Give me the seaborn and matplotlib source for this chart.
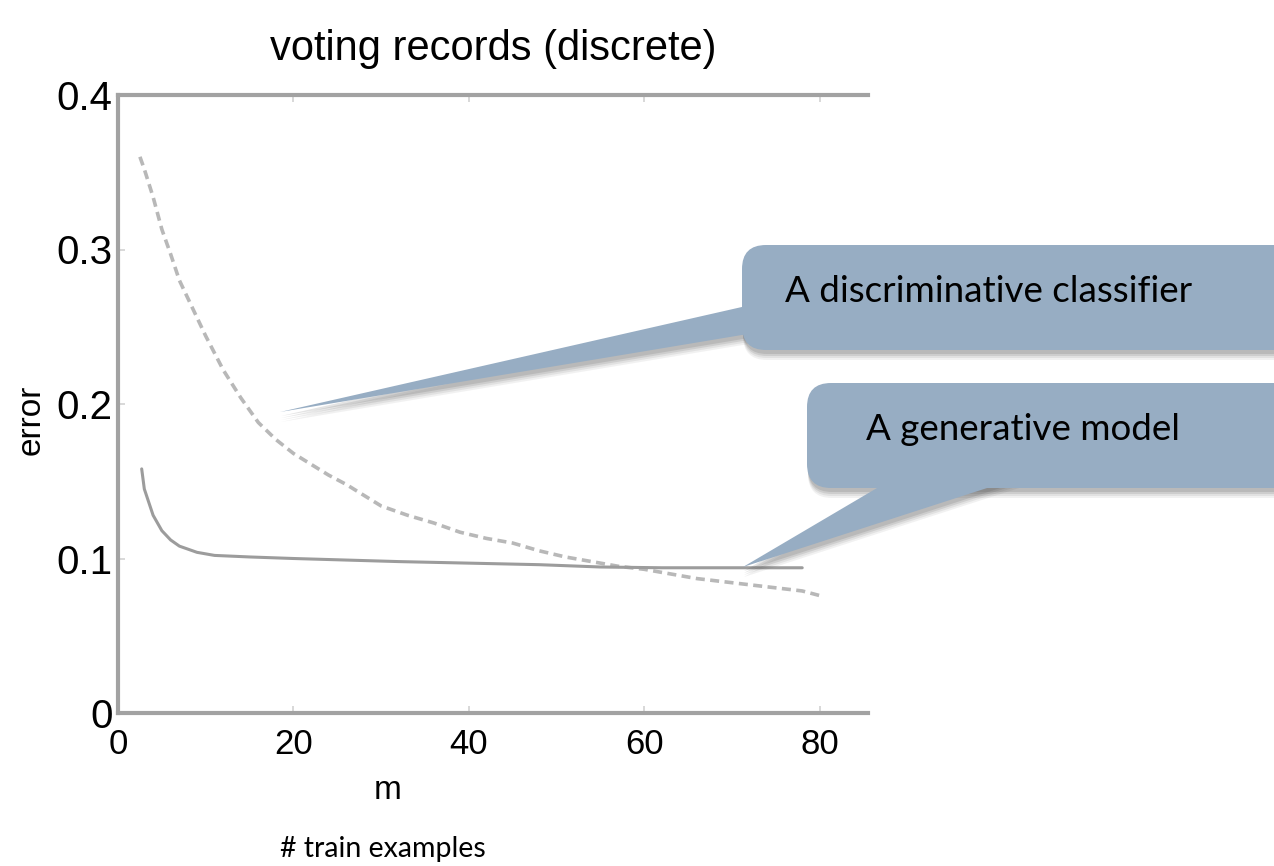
import numpy as np
import pandas as pd
import matplotlib
matplotlib.use("Agg")
import matplotlib.pyplot as plt
import seaborn as sns
from matplotlib.patches import FancyBboxPatch, Polygon

# curve readings (m = # training examples, error)
m_disc = [2.5, 3, 4, 5, 6, 7, 8, 9, 10, 11, 12, 14, 16, 18, 20, 22, 24, 26, 28, 30,
          33, 36, 39, 42, 45, 48, 51, 54, 57, 60, 63, 66, 69, 72, 75, 78, 80]
err_disc = [0.360, 0.352, 0.334, 0.313, 0.297, 0.280, 0.268, 0.256, 0.244, 0.233, 0.222,
            0.204, 0.188, 0.177, 0.168, 0.161, 0.154, 0.148, 0.141, 0.134,
            0.128, 0.123, 0.117, 0.113, 0.110, 0.105, 0.101, 0.098, 0.095, 0.093,
            0.090, 0.087, 0.085, 0.083, 0.081, 0.079, 0.076]

m_gen = [2.7, 3, 4, 5, 6, 7, 8, 9, 11, 15, 20, 26, 32, 40, 48, 55, 62, 70, 78]
err_gen = [0.158, 0.145, 0.128, 0.118, 0.112, 0.108, 0.106, 0.104, 0.102, 0.101, 0.100,
           0.099, 0.098, 0.097, 0.096, 0.0945, 0.094, 0.094, 0.094]

x_ticks = [0, 20, 40, 60, 80]
y_ticks = [0, 0.1, 0.2, 0.3, 0.4]
y_tick_labels = ["0", "0.1", "0.2", "0.3", "0.4"]

title = "voting records (discrete)"
callout_disc = "A discriminative classifier"
callout_gen = "A generative model"
caption = "# train examples"

sns.set_theme(style="white")
plt.rcParams["font.family"] = ["Liberation Sans", "DejaVu Sans"]
plt.rcParams["text.color"] = "black"
plt.rcParams["axes.labelcolor"] = "black"
plt.rcParams["xtick.labelcolor"] = "black"
plt.rcParams["ytick.labelcolor"] = "black"

df_disc = pd.DataFrame({"m": m_disc, "error": err_disc})
df_gen = pd.DataFrame({"m": m_gen, "error": err_gen})

fig = plt.figure(figsize=(12.74, 8.66), dpi=100)
ax = fig.add_axes([118 / 1274, 1 - 713 / 866, 750 / 1274, 618 / 866])

sns.lineplot(data=df_disc, x="m", y="error", ax=ax, color="#b8b8b8",
             linewidth=2.6, linestyle=(0, (2.5, 1.5)))
sns.lineplot(data=df_gen, x="m", y="error", ax=ax, color="#9c9c9c", linewidth=2.2)

ax.set_xlim(0, 85.5)
ax.set_ylim(0, 0.4)
ax.set_xticks(x_ticks)
ax.set_yticks(y_ticks)
ax.set_yticklabels(y_tick_labels)
ax.tick_params(axis="y", labelsize=29, pad=4, direction="in", length=5, color="#d4d4d4",
               left=True)
ax.tick_params(axis="x", labelsize=25, pad=11, direction="in", length=5, color="#d4d4d4",
               top=True, bottom=True)
for side in ["left", "bottom", "top"]:
    ax.spines[side].set_color("#a2a2a2")
    ax.spines[side].set_linewidth(3)
ax.spines["right"].set_visible(False)

ax.set_title(title, fontsize=30, pad=25, color="black")
ax.set_xlabel("m", fontsize=24, labelpad=0)
ax.xaxis.set_label_coords(0.36, -0.1)
ax.set_ylabel("error", fontsize=24)
ax.yaxis.set_label_coords(-0.095, 0.474)

# callout overlay in pixel coordinates
ov = fig.add_axes([0, 0, 1, 1], zorder=10)
ov.set_xlim(0, 1274)
ov.set_ylim(866, 0)
ov.axis("off")

box_color = "#97adc3"
shapes = [
    ("poly", [(280, 412), (770, 300.6), (770, 330.3)]),
    ("box", (742, 245, 560, 105)),
    ("poly", [(743, 567), (894, 478), (1018, 478)]),
    ("box", (807, 383, 500, 105)),
]

def make(kind, spec, dx=0, dy=0, **kw):
    if kind == "poly":
        return Polygon([(x + dx, y + dy) for x, y in spec], closed=True, **kw)
    x, y, w, h = spec
    return FancyBboxPatch((x + dx, y + dy), w, h,
                          boxstyle="round,pad=0,rounding_size=24", **kw)

# soft shadows first
for off, a in [(10, 0.07), (8, 0.09), (6, 0.12), (4, 0.14)]:
    for kind, spec in shapes:
        ov.add_patch(make(kind, spec, dx=1, dy=off, facecolor="#404040",
                          edgecolor="none", alpha=a))
for kind, spec in shapes:
    ov.add_patch(make(kind, spec, facecolor=box_color, edgecolor="none"))

ov.text(989, 292, callout_disc, fontsize=26.5, family=["Lato", "DejaVu Sans"],
        ha="center", va="center", color="black")
ov.text(1023, 430, callout_gen, fontsize=26.5, family=["Lato", "DejaVu Sans"],
        ha="center", va="center", color="black")
ov.text(383, 849, caption, fontsize=20.5, family=["Lato", "DejaVu Sans"],
        ha="center", va="center", color="black")

fig.savefig("out.png", dpi=100)
